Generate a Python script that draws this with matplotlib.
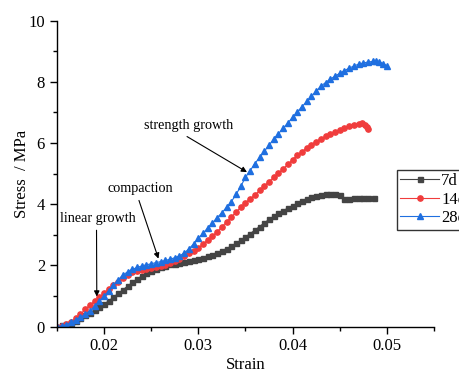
import numpy as np
import matplotlib
matplotlib.use("Agg")
import matplotlib.pyplot as plt

plt.rcParams['font.family'] = ['Liberation Serif', 'DejaVu Serif']

# 7d curing
strain_7d = [0.0150, 0.0155, 0.0160, 0.0165, 0.0170, 0.0175, 0.0180, 0.0185, 0.0190, 0.0195,
             0.0200, 0.0205, 0.0210, 0.0215, 0.0220, 0.0225, 0.0230, 0.0235, 0.0240, 0.0245,
             0.0250, 0.0255, 0.0260, 0.0265, 0.0270, 0.0275, 0.0280, 0.0285, 0.0290, 0.0295,
             0.0300, 0.0305, 0.0310, 0.0315, 0.0320, 0.0325, 0.0330, 0.0335, 0.0340, 0.0345,
             0.0350, 0.0355, 0.0360, 0.0365, 0.0370, 0.0375, 0.0380, 0.0385, 0.0390, 0.0395,
             0.0400, 0.0405, 0.0410, 0.0415, 0.0420, 0.0425, 0.0430, 0.0435, 0.0440, 0.0445,
             0.0450, 0.0455, 0.0460, 0.0465, 0.0470, 0.0475, 0.0480, 0.0486]
stress_7d = [0.00, 0.04, 0.08, 0.13, 0.19, 0.27, 0.36, 0.45, 0.54, 0.63,
             0.73, 0.84, 0.96, 1.08, 1.20, 1.32, 1.44, 1.55, 1.65, 1.74,
             1.82, 1.89, 1.95, 1.99, 2.03, 2.06, 2.09, 2.12, 2.15, 2.18,
             2.21, 2.25, 2.29, 2.34, 2.40, 2.47, 2.55, 2.63, 2.72, 2.82,
             2.93, 3.04, 3.15, 3.27, 3.39, 3.50, 3.60, 3.70, 3.79, 3.87,
             3.95, 4.03, 4.10, 4.17, 4.23, 4.28, 4.31, 4.33, 4.33, 4.32,
             4.31, 4.18, 4.18, 4.19, 4.20, 4.20, 4.21, 4.20]

# 14d curing
strain_14d = [0.0150, 0.0155, 0.0160, 0.0165, 0.0170, 0.0175, 0.0180, 0.0185, 0.0190, 0.0195,
              0.0200, 0.0205, 0.0210, 0.0215, 0.0220, 0.0225, 0.0230, 0.0235, 0.0240, 0.0245,
              0.0250, 0.0255, 0.0260, 0.0265, 0.0270, 0.0275, 0.0280, 0.0285, 0.0290, 0.0295,
              0.0300, 0.0305, 0.0310, 0.0315, 0.0320, 0.0325, 0.0330, 0.0335, 0.0340, 0.0345,
              0.0350, 0.0355, 0.0360, 0.0365, 0.0370, 0.0375, 0.0380, 0.0385, 0.0390, 0.0395,
              0.0400, 0.0405, 0.0410, 0.0415, 0.0420, 0.0425, 0.0430, 0.0435, 0.0440, 0.0445,
              0.0450, 0.0455, 0.0460, 0.0465, 0.0470, 0.0474, 0.0477, 0.0479, 0.0480]
stress_14d = [0.00, 0.02, 0.07, 0.16, 0.27, 0.40, 0.56, 0.70, 0.83, 0.96,
              1.10, 1.22, 1.35, 1.47, 1.59, 1.70, 1.77, 1.82, 1.85, 1.88,
              1.91, 1.94, 1.97, 2.02, 2.08, 2.14, 2.22, 2.31, 2.40, 2.48,
              2.57, 2.70, 2.83, 2.96, 3.10, 3.26, 3.42, 3.58, 3.74, 3.90,
              4.05, 4.18, 4.30, 4.45, 4.60, 4.74, 4.88, 5.02, 5.16, 5.30,
              5.46, 5.60, 5.72, 5.84, 5.95, 6.05, 6.14, 6.22, 6.29, 6.36,
              6.42, 6.49, 6.55, 6.60, 6.63, 6.64, 6.60, 6.53, 6.47]

# 28d curing
strain_28d = [0.0150, 0.0155, 0.0160, 0.0165, 0.0170, 0.0175, 0.0180, 0.0185, 0.0190, 0.0195,
              0.0200, 0.0205, 0.0210, 0.0215, 0.0220, 0.0225, 0.0230, 0.0235, 0.0240, 0.0245,
              0.0250, 0.0255, 0.0260, 0.0265, 0.0270, 0.0275, 0.0280, 0.0285, 0.0290, 0.0295,
              0.0300, 0.0305, 0.0310, 0.0315, 0.0320, 0.0325, 0.0330, 0.0335, 0.0340, 0.0345,
              0.0350, 0.0355, 0.0360, 0.0365, 0.0370, 0.0375, 0.0380, 0.0385, 0.0390, 0.0395,
              0.0400, 0.0405, 0.0410, 0.0415, 0.0420, 0.0425, 0.0430, 0.0435, 0.0440, 0.0445,
              0.0450, 0.0455, 0.0460, 0.0465, 0.0470, 0.0475, 0.0480, 0.0485, 0.0489, 0.0492,
              0.0496, 0.0500]
stress_28d = [0.00, 0.02, 0.06, 0.14, 0.22, 0.30, 0.40, 0.52, 0.66, 0.82,
              0.99, 1.17, 1.35, 1.53, 1.68, 1.79, 1.87, 1.93, 1.98, 2.02,
              2.05, 2.09, 2.12, 2.16, 2.20, 2.25, 2.31, 2.40, 2.54, 2.70,
              2.88, 3.05, 3.22, 3.39, 3.56, 3.72, 3.90, 4.08, 4.32, 4.58,
              4.88, 5.10, 5.33, 5.53, 5.73, 5.93, 6.13, 6.31, 6.48, 6.66,
              6.84, 7.02, 7.19, 7.36, 7.53, 7.70, 7.86, 7.98, 8.09, 8.19,
              8.28, 8.37, 8.45, 8.52, 8.58, 8.62, 8.65, 8.67, 8.68, 8.66,
              8.60, 8.53]

fig = plt.figure(figsize=(4.59, 3.74), dpi=100)
ax = fig.add_axes([0.124, 0.127, 0.8215, 0.8175])

ax.plot(strain_7d, stress_7d, '-s', color='#444444', lw=0.8, ms=3.6, label='7d')
ax.plot(strain_14d, stress_14d, '-o', color='#f03c3c', lw=0.8, ms=3.8, label='14d')
ax.plot(strain_28d, stress_28d, '-^', color='#1f6fe0', lw=0.8, ms=4.2, label='28d')

ax.set_xlim(0.015, 0.055)
ax.set_ylim(0, 10)
ax.set_xticks([0.02, 0.03, 0.04, 0.05])
ax.set_xticklabels(['0.02', '0.03', '0.04', '0.05'])
ax.set_xticks([0.015, 0.025, 0.035, 0.045, 0.055], minor=True)
ax.set_yticks([0, 2, 4, 6, 8, 10])
ax.set_yticks([1, 3, 5, 7, 9], minor=True)
ax.tick_params(which='major', direction='out', length=5, width=1, labelsize=12)
ax.tick_params(which='minor', direction='out', length=3, width=1)
for side in ['top', 'right']:
    ax.spines[side].set_visible(False)
for side in ['left', 'bottom']:
    ax.spines[side].set_linewidth(1.0)

ax.set_xlabel('Strain', fontsize=12, labelpad=2)
ax.set_ylabel('Stress  / MPa', fontsize=12, labelpad=-1)

# stage annotations
def stage_arrow(relpos):
    return dict(arrowstyle='-|>', color='black', lw=0.8, mutation_scale=8,
                relpos=relpos, shrinkA=2, shrinkB=0)

ax.annotate('strength growth', xy=(0.03516, 5.05), xytext=(0.02900, 6.35),
            fontsize=10.2, ha='center', va='bottom',
            arrowprops=stage_arrow((0.4, 0.0)))
ax.annotate('compaction', xy=(0.02577, 2.22), xytext=(0.02386, 4.30),
            fontsize=10.2, ha='center', va='bottom',
            arrowprops=stage_arrow((0.45, 0.0)))
ax.annotate('linear growth', xy=(0.01923, 0.98), xytext=(0.01936, 3.33),
            fontsize=10.2, ha='center', va='bottom',
            arrowprops=stage_arrow((0.48, 0.0)))

leg = ax.legend(loc='upper left', bbox_to_anchor=(0.865, 0.5455),
                bbox_transform=fig.transFigure, fontsize=12, frameon=True,
                fancybox=False, edgecolor='black', handlelength=2.3,
                handletextpad=0.15, borderpad=0.2, labelspacing=0.15,
                borderaxespad=0)
leg.get_frame().set_linewidth(1.0)

fig.savefig('out.png', dpi=100)
